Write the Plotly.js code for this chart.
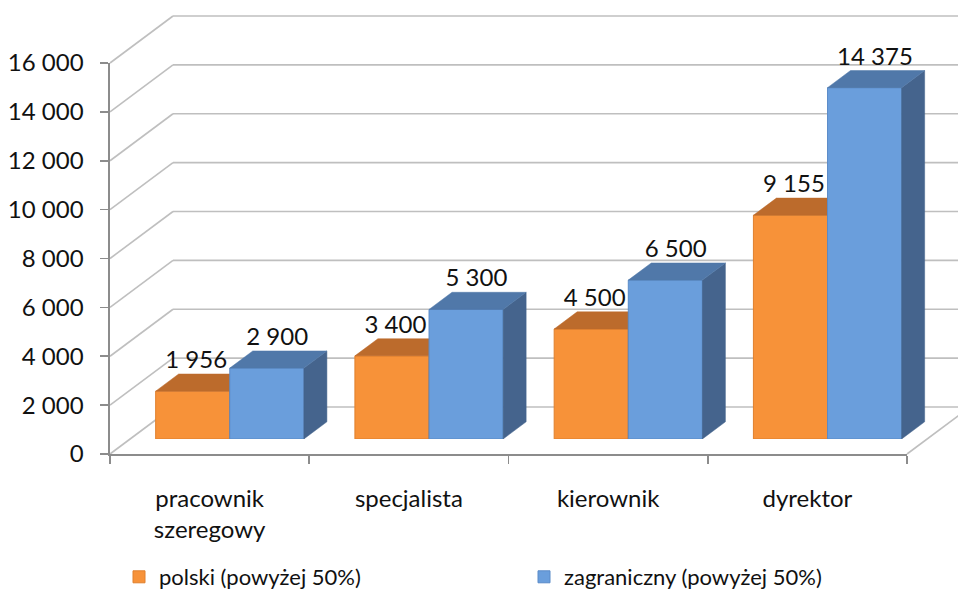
<!DOCTYPE html>
<html>
<head>
<meta charset="utf-8">
<script src="https://cdn.plot.ly/plotly-3.0.1.min.js"></script>
<style>html,body{margin:0;padding:0;background:#fff}#chart{width:958px;height:589px}</style>
</head>
<body>
<div id="chart"></div>
<script>
// ---- data ----
const categories = ['pracownik<br>szeregowy', 'specjalista', 'kierownik', 'dyrektor'];
const seriesNames = ['polski (powyżej 50%)', 'zagraniczny (powyżej 50%)'];
const polski = [1956, 3400, 4500, 9155];
const zagraniczny = [2900, 5300, 6500, 14375];
const yTickVals = [0, 2000, 4000, 6000, 8000, 10000, 12000, 14000, 16000];

// ---- formatting ----
function fmt(v) { return String(v).replace(/\B(?=(\d{3})+(?!\d))/g, ' '); }

// ---- geometry (pixels) ----
const W = 958, H = 589;
const X0 = 110, X1 = 907, Y0 = 454, YT = 63;     // front plane
const YMAX = 16000;
const DX = 63, DY = 47;                          // full depth offset
const pxCat = (X1 - X0) / categories.length;
const pxVal = (Y0 - YT) / YMAX;
const barDepth0 = 0.32, barDepth = 0.365;
const barW = 0.372;
const FONT = 'Lato, "Open Sans", sans-serif';
const FS = 24;
const colors = {
  oFront: '#F79239', oTop: '#BC6B2C', oSide: '#A85E25', oLine: '#E0802E',
  bFront: '#6A9EDC', bTop: '#5078A9', bSide: '#45648D', bLine: '#5A8BC8'
};
const gridColor = '#BFBFBF', axisColor = '#8C8C8C';

const idx = categories.map((_, i) => i);
const traces = [];

// ---- canvas (front-plane units, whole figure) : walls & gridlines ----
const cx = (px) => -0.5 + (px - X0) / pxCat;
const cdx = DX / pxCat, cdy = DY / pxVal;
let gx = [], gy = [];
yTickVals.forEach(v => {
  gx.push(-0.5, -0.5 + cdx, null); gy.push(v, v + cdy, null);            // left wall diagonal
  gx.push(-0.5 + cdx, cx(W) + 1, null); gy.push(v + cdy, v + cdy, null); // back wall horizontal
});
gx.push(categories.length - 0.5, categories.length - 0.5 + cdx, null); gy.push(0, cdy, null); // right floor edge
traces.push({type: 'scatter', mode: 'lines', x: gx, y: gy, xaxis: 'x', yaxis: 'y',
  line: {color: gridColor, width: 1.6}, hoverinfo: 'skip', showlegend: false});

// ---- bars (bar plane); each series on its own subplot so later series covers earlier ----
const sdx = barDepth * DX / pxCat, sdy = barDepth * DY / pxVal;
function series(vals, off, name, front, line, top, side, xa, ya, lblShift) {
  let tx = [], ty = [], sx = [], sy = [];
  vals.forEach((v, i) => {
    const xl = i + off, xr = i + off + barW;
    tx.push(xl, xr, xr + sdx, xl + sdx, xl, null);
    ty.push(v, v, v + sdy, v + sdy, v, null);
    sx.push(xr, xr + sdx, xr + sdx, xr, xr, null);
    sy.push(0, sdy, v + sdy, v, 0, null);
  });
  return [
    {type: 'bar', name: name, x: idx, y: vals, width: barW, offset: off,
     marker: {color: front, line: {color: line, width: 1}}, xaxis: xa, yaxis: ya},
    {type: 'scatter', mode: 'lines', x: sx, y: sy, fill: 'toself', fillcolor: side,
     line: {width: 0.5, color: side}, xaxis: xa, yaxis: ya, hoverinfo: 'skip', showlegend: false},
    {type: 'scatter', mode: 'lines', x: tx, y: ty, fill: 'toself', fillcolor: top,
     line: {width: 0.5, color: top}, xaxis: xa, yaxis: ya, hoverinfo: 'skip', showlegend: false},
    {type: 'scatter', mode: 'text', x: idx.map(i => i + off + barW / 2 + lblShift),
     y: vals.map(v => v + sdy), text: vals.map(fmt), textposition: 'top center',
     textfont: {family: FONT, size: FS, color: '#111'}, cliponaxis: false,
     xaxis: xa, yaxis: ya, hoverinfo: 'skip', showlegend: false}
  ];
}
traces.push(...series(polski, -barW, seriesNames[0], colors.oFront, colors.oLine, colors.oTop, colors.oSide, 'x2', 'y2', sdx * 0.15));
traces.push(...series(zagraniczny, 0, seriesNames[1], colors.bFront, colors.bLine, colors.bTop, colors.bSide, 'x5', 'y5', sdx * 0.45));

// front axes placeholder traces
traces.push({type: 'scatter', mode: 'markers', x: [0], y: [0], marker: {opacity: 0},
  xaxis: 'x3', yaxis: 'y3', hoverinfo: 'skip', showlegend: false});
traces.push({type: 'scatter', mode: 'markers', x: [0], y: [0], marker: {opacity: 0},
  xaxis: 'x4', yaxis: 'y3', hoverinfo: 'skip', showlegend: false});

const bx0 = X0 + barDepth0 * DX, by0 = Y0 - barDepth0 * DY;
const hidden = {showgrid: false, zeroline: false, showline: false, showticklabels: false, ticks: ''};
const barXDomain = [bx0 / W, (bx0 + (X1 - X0)) / W];
const barYDomain = [(H - by0) / H, (H - by0 + (Y0 - YT)) / H];
const catRange = [-0.5, categories.length - 0.5];
const layout = {
  width: W, height: H,
  margin: {l: 0, r: 0, t: 0, b: 0, pad: 0, autoexpand: false},
  paper_bgcolor: '#fff', plot_bgcolor: 'rgba(0,0,0,0)',
  font: {family: FONT, size: FS, color: '#111'},
  showlegend: true,
  barmode: 'overlay',
  xaxis: Object.assign({domain: [0, 1], range: [cx(0), cx(W)]}, hidden),
  yaxis: Object.assign({domain: [0, 1], range: [-(H - Y0) / pxVal, Y0 / pxVal]}, hidden),
  xaxis2: Object.assign({domain: barXDomain, range: catRange, anchor: 'y2'}, hidden),
  yaxis2: Object.assign({domain: barYDomain, range: [0, YMAX], anchor: 'x2'}, hidden),
  xaxis5: Object.assign({domain: barXDomain, range: catRange, anchor: 'y5'}, hidden),
  yaxis5: Object.assign({domain: barYDomain, range: [0, YMAX], anchor: 'x5'}, hidden),
  xaxis3: {domain: [X0 / W, X1 / W], range: catRange, anchor: 'y3',
    tickvals: [-0.5, 0.5, 1.5, 2.5, 3.5], ticks: 'outside', ticklen: 8, tickcolor: axisColor, tickwidth: 1.6,
    showticklabels: false, showgrid: false, zeroline: false, showline: true, linecolor: axisColor, linewidth: 1.6},
  xaxis4: {overlaying: 'x3', anchor: 'y3', range: catRange,
    tickvals: idx, ticktext: categories, ticks: '', ticklabelstandoff: 28,
    showgrid: false, zeroline: false, showline: false, tickfont: {family: FONT, size: FS, color: '#111'}},
  yaxis3: {domain: [(H - Y0) / H, (H - YT) / H], range: [0, YMAX], anchor: 'x3',
    tickvals: yTickVals, ticktext: yTickVals.map(fmt), ticks: 'outside', ticklen: 8, tickcolor: axisColor, tickwidth: 1.6,
    showgrid: false, zeroline: false, showline: true, linecolor: axisColor, linewidth: 1.6,
    tickfont: {family: FONT, size: FS, color: '#111'}, ticklabelstandoff: 12},
  legend: {orientation: 'h', x: 119 / W, xanchor: 'left', y: -9 / H, yanchor: 'bottom',
    entrywidth: 360, entrywidthmode: 'pixels', font: {family: FONT, size: 22, color: '#111'},
    bgcolor: 'rgba(0,0,0,0)', traceorder: 'normal'}
};

Plotly.newPlot('chart', traces, layout, {displayModeBar: false, staticPlot: true});
</script>
</body>
</html>
